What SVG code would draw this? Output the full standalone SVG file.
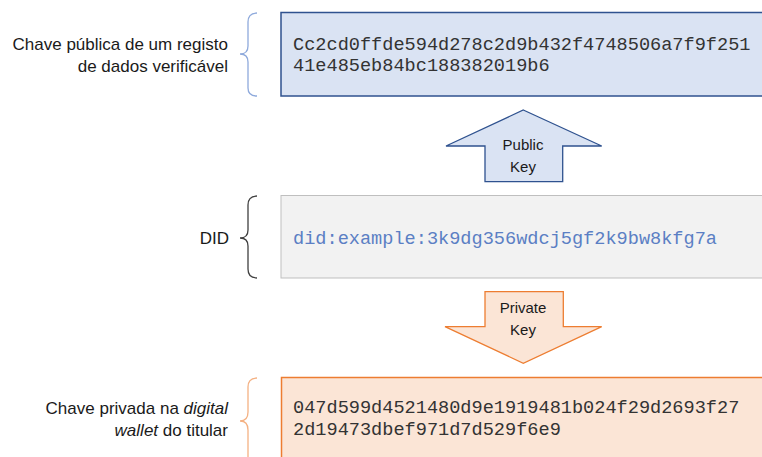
<svg xmlns="http://www.w3.org/2000/svg" width="762" height="457" viewBox="0 0 762 457">
  <style>
    .lbl { font-family: "Liberation Sans", Arial, sans-serif; font-size: 17px; fill: #1a1a1a; text-anchor: end; }
    .arr { font-family: "Liberation Sans", Arial, sans-serif; font-size: 15px; fill: #1a1a1a; text-anchor: middle; }
    .code { font-family: "Liberation Mono", "Courier New", monospace; font-size: 18.6px; fill: #333333; }
    .brace { fill: none; stroke-width: 1.3; }
  </style>
  <rect width="762" height="457" fill="#ffffff"/>

  <!-- Public key of a verifiable data registry -->
  <g id="public-key">
    <path class="brace" stroke="#8FAADC" d="M257,13 Q248,13 248,22 L248,46 Q248,54 240,54 Q248,54 248,62 L248,88 Q248,96 257,96"/>
    <text class="lbl" x="228" y="50">Chave pública de um registo</text>
    <text class="lbl" x="228" y="72">de dados verificável</text>
    <rect x="281" y="12.5" width="490" height="83.5" fill="#DAE3F3" stroke="#2F528F" stroke-width="1.5"/>
    <text class="code" x="293" y="50">Cc2cd0ffde594d278c2d9b432f4748506a7f9f251</text>
    <text class="code" x="293" y="71">41e485eb84bc188382019b6</text>
  </g>

  <!-- DID -->
  <g id="did">
    <path class="brace" stroke="#404040" d="M257,196 Q248,196 248,205 L248,230 Q248,238 240,238 Q248,238 248,246 L248,269 Q248,278 257,278"/>
    <text class="lbl" x="229" y="244">DID</text>
    <rect x="281" y="195.5" width="490" height="82.5" fill="#F2F2F2" stroke="#BFBFBF" stroke-width="1"/>
    <text class="code" x="293" y="244" style="fill:#5B7FC4">did:example:3k9dg356wdcj5gf2k9bw8kfg7a</text>
  </g>

  <!-- Private key in the holder's wallet -->
  <g id="private-key">
    <path class="brace" stroke="#F4B183" d="M257,378 Q248,378 248,387 L248,412 Q248,421 240,421 Q248,421 248,430 L248,470"/>
    <text class="lbl" x="228" y="414">Chave privada na <tspan font-style="italic">digital</tspan></text>
    <text class="lbl" x="228" y="436"><tspan font-style="italic">wallet</tspan> do titular</text>
    <rect x="281.5" y="377.5" width="490" height="90" fill="#FBE5D6" stroke="#ED7D31" stroke-width="1.5"/>
    <text class="code" x="293" y="413">047d599d4521480d9e1919481b024f29d2693f27</text>
    <text class="code" x="293" y="435">2d19473dbef971d7d529f6e9</text>
  </g>

  <!-- Connectors -->
  <g id="connectors">
    <g id="public-arrow">
      <polygon points="523.3,110 601.7,146 562.7,146 562.7,181.7 485,181.7 485,146 446,146" fill="#DAE3F3" stroke="#2F528F" stroke-width="1.3" stroke-linejoin="miter"/>
      <text class="arr" x="523" y="150">Public</text>
      <text class="arr" x="523" y="172">Key</text>
    </g>
    <g id="private-arrow">
      <polygon points="485,291.7 563.3,291.7 563.3,326.7 601.7,326.7 523.3,363.3 445,326.7 485,326.7" fill="#FBE5D6" stroke="#ED7D31" stroke-width="1.3" stroke-linejoin="miter"/>
      <text class="arr" x="523" y="313">Private</text>
      <text class="arr" x="523" y="335">Key</text>
    </g>
  </g>
</svg>
